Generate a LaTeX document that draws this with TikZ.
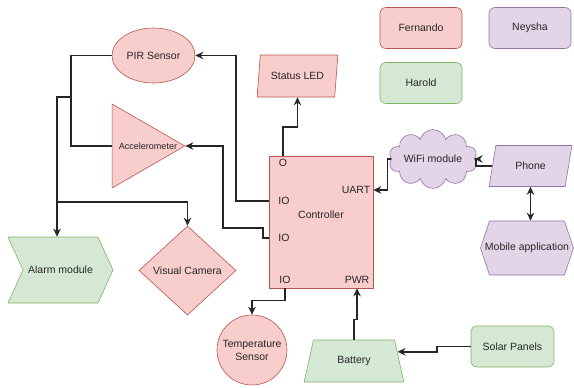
\documentclass[tikz,border=0pt]{standalone}
\usepackage{fontspec}
\setmainfont{Liberation Sans}
\usepackage{xcolor}
\usetikzlibrary{arrows.meta,positioning,shapes.geometric,shapes.symbols}
\definecolor{rdfill}{HTML}{F8CECC}
\definecolor{rdline}{HTML}{B85450}
\definecolor{gnfill}{HTML}{D5E8D4}
\definecolor{gnline}{HTML}{82B366}
\definecolor{ppfill}{HTML}{E1D5E7}
\definecolor{ppline}{HTML}{9673A6}

\begin{document}
\begin{tikzpicture}[x=1pt, y=-1pt,
      every node/.style={font=\fontsize{10.5}{13}\selectfont, text=black!85},
      rd/.style={draw=rdline, fill=rdfill, line width=0.6pt, inner sep=0pt},
      gn/.style={draw=gnline, fill=gnfill, line width=0.6pt, inner sep=0pt},
      pp/.style={draw=ppline, fill=ppfill, line width=0.6pt, inner sep=0pt},
      ln/.style={draw=black!85, line width=1.6pt},
      ar/.style={ln, -{Stealth[length=8pt, width=7.5pt]}}]
    \useasboundingbox (0,0) rectangle (574,388);
    % legend
    \node[rd, rounded corners=6pt, minimum width=82pt, minimum height=41pt] (fernando) at (421,28) {Fernando};
    \node[pp, rounded corners=6pt, minimum width=82pt, minimum height=41pt] (neysha) at (530,28) {Neysha};
    \node[gn, rounded corners=6pt, minimum width=82pt, minimum height=41pt] (harold) at (421,83) {Harold};
    % sensors and outputs
    \node[rd, ellipse, minimum width=83pt, minimum height=55pt] (pir) at (153.5,55.5) {PIR Sensor};
    \node[rd, regular polygon, regular polygon sides=3, regular polygon rotate=-90, minimum size=97pt] (acc) at (136.3,146) {};
    \node[font=\fontsize{9}{11}\selectfont] (acctext) at (148,146) {Accelerometer};
    \node[rd, trapezium, trapezium left angle=73, trapezium right angle=107, trapezium stretches=true, minimum width=81pt, minimum height=42pt] (led) at (297.5,76) {Status LED};
    \node[gn, signal, signal to=east, signal from=west, signal pointer angle=131, minimum width=105pt, minimum height=66pt] (alarm) at (60.5,270) {Alarm module};
    \node[rd, diamond, minimum width=97pt, minimum height=89pt] (cam) at (187.5,270.5) {Visual Camera};
    \node[rd, circle, minimum size=70pt, align=center] (temp) at (252,350) {Temperature\\Sensor};
    % controller and its ports
    \node[rd, minimum width=104pt, minimum height=132pt] (ctrl) at (321,222) {};
    \node (ctrltext) at (321,215) {Controller};
    \node (pO) at (283,163) {O};
    \node (pIOa) at (284,201) {IO};
    \node (pIOb) at (284,238) {IO};
    \node (pIOc) at (285,280) {IO};
    \node (pUART) at (356,190) {UART};
    \node (pPWR) at (357,280) {PWR};
    % power and comms
    \node[gn, trapezium, trapezium angle=68, trapezium stretches=true, minimum width=100pt, minimum height=42pt] (bat) at (354,361) {Battery};
    \node[gn, rounded corners=6pt, minimum width=83pt, minimum height=41pt] (solar) at (512.5,346.5) {Solar Panels};
    \node[pp, cloud, cloud puffs=10, aspect=2, minimum width=87pt, minimum height=42pt] (wifi) at (433,159) {WiFi module};
    \node[pp, trapezium, trapezium left angle=69, trapezium right angle=111, trapezium stretches=true, minimum width=83pt, minimum height=41pt] (phone) at (530.5,166) {Phone};
    \node[pp, signal, signal to=east and west, signal pointer angle=143, minimum width=93pt, minimum height=54pt, label=center:{Mobile application}] (mobile) at (527,248) {};
    % connectors
    \draw[ar] (pO |- ctrl.north) -- ++(0,-29) -| (led.south);
    \draw[ar] (ctrl.west |- pIOa) -- ++(-33,0) |- (pir.east);
    \draw[ar] (ctrl.west |- pIOb) -- ++(-6,0) -- ++(0,-10) -- ++(-40,0) |- (acc.corner 1);
    \draw[ln] (pir.west) -- ++(-41,0) |- (acc.side 2);
    \coordinate (split) at (71,97);
    \coordinate (fork) at (57,202);
    \draw[ln] (split) -| (fork);
    \draw[ar] (fork) -- (fork |- alarm.north);
    \draw[ar] (fork) -| (cam.north);
    \draw[ar] (pIOc |- ctrl.south) -- ++(0,12) -| (temp.north);
    \draw[ar] (bat.north) -- ++(0,-20) -| (pPWR |- ctrl.south);
    \draw[ar] (solar.west) -- ++(-34,0) |- (bat.12);
    \draw[ar] (phone.west) -- ++(-16,0) |- (wifi.east);
    \draw[ar] (wifi.west) -- ++(-4,0) |- (ctrl.east |- pUART);
    \draw[ln, {Stealth[length=8pt, width=7.5pt]}-{Stealth[length=8pt, width=7.5pt]}] (phone.south) -- (phone.south |- mobile.north);
  \end{tikzpicture}
\end{document}
